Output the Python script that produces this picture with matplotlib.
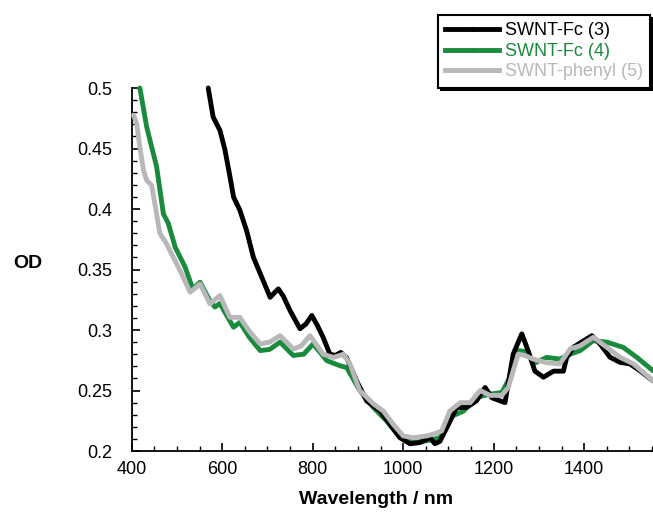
import matplotlib
matplotlib.use("Agg")
import matplotlib.pyplot as plt
from matplotlib.lines import Line2D
from matplotlib.ticker import MultipleLocator, FormatStrFormatter

plt.rcParams['font.family'] = ['Liberation Sans', 'DejaVu Sans']

# SWNT-Fc (3)
wl_3 = [569, 580, 595, 606, 617, 625, 639, 654, 669, 687, 706, 716, 724, 735, 750, 772,
        785, 798, 810, 823, 838, 850, 862, 875, 897, 919, 949, 971, 993, 1015, 1037,
        1059, 1070, 1081, 1100, 1118, 1140, 1162, 1181, 1196, 1214, 1225, 1243, 1262,
        1276, 1291, 1310, 1332, 1354, 1361, 1376, 1398, 1417, 1435, 1457, 1479, 1501,
        1523, 1552]
od_3 = [0.500, 0.476, 0.465, 0.449, 0.427, 0.410, 0.399, 0.382, 0.360, 0.344, 0.327,
        0.331, 0.334, 0.328, 0.316, 0.301, 0.305, 0.312, 0.304, 0.294, 0.280, 0.279,
        0.2815, 0.277, 0.258, 0.2415, 0.233, 0.222, 0.211, 0.206, 0.207, 0.211, 0.206,
        0.208, 0.222, 0.236, 0.236, 0.2415, 0.2525, 0.244, 0.2415, 0.240, 0.280, 0.2968,
        0.283, 0.266, 0.261, 0.266, 0.266, 0.277, 0.2857, 0.291, 0.2953, 0.2885, 0.2775,
        0.2733, 0.272, 0.2664, 0.258]

# SWNT-Fc (4)
wl_4 = [418, 433, 444, 455, 470, 481, 496, 518, 535, 551, 573, 584, 595, 610, 625, 639,
        660, 684, 705, 728, 757, 780, 801, 831, 860, 875, 904, 934, 963, 993, 1022, 1052,
        1081, 1103, 1133, 1162, 1192, 1218, 1236, 1254, 1274, 1287, 1317, 1346, 1369,
        1391, 1420, 1450, 1486, 1516, 1552]
od_4 = [0.500, 0.468, 0.4514, 0.435, 0.396, 0.388, 0.3685, 0.352, 0.334, 0.3395, 0.324,
        0.319, 0.322, 0.312, 0.3023, 0.3064, 0.294, 0.283, 0.284, 0.290, 0.279, 0.280,
        0.2885, 0.2747, 0.2705, 0.269, 0.250, 0.236, 0.225, 0.211, 0.207, 0.2085, 0.211,
        0.228, 0.233, 0.2443, 0.247, 0.2484, 0.261, 0.283, 0.282, 0.272, 0.2774, 0.276,
        0.280, 0.283, 0.2912, 0.290, 0.2857, 0.2775, 0.2664]

# SWNT-phenyl (5)
wl_5 = [404, 411, 418, 426, 433, 444, 455, 462, 477, 492, 507, 529, 551, 573, 595, 617,
        639, 660, 684, 705, 728, 757, 775, 794, 823, 846, 868, 882, 904, 934, 956, 978,
        1000, 1022, 1052, 1067, 1085, 1103, 1126, 1148, 1170, 1192, 1218, 1232, 1254,
        1269, 1287, 1317, 1346, 1369, 1391, 1420, 1450, 1479, 1509, 1552]
od_5 = [0.4776, 0.4707, 0.451, 0.432, 0.4238, 0.4196, 0.396, 0.380, 0.3713, 0.360,
        0.349, 0.3313, 0.338, 0.3216, 0.3285, 0.3105, 0.3105, 0.299, 0.2885, 0.290,
        0.2954, 0.2843, 0.287, 0.2954, 0.280, 0.2774, 0.280, 0.272, 0.250, 0.239, 0.233,
        0.222, 0.2125, 0.211, 0.2125, 0.214, 0.2166, 0.233, 0.240, 0.240, 0.250, 0.246,
        0.246, 0.2525, 0.280, 0.279, 0.276, 0.273, 0.272, 0.2844, 0.287, 0.294, 0.2857,
        0.2775, 0.272, 0.258]

labels = ["SWNT-Fc (3)", "SWNT-Fc (4)", "SWNT-phenyl (5)"]
colors = ["#000000", "#1a8a3c", "#b8b8b8"]

fig = plt.figure(figsize=(6.53, 5.12), dpi=100)
ax = fig.add_axes([0.2017, 0.1191, 0.7983, 0.709])

ax.plot(wl_3, od_3, color=colors[0], lw=3.5, solid_joinstyle='round',
        solid_capstyle='round', zorder=3, clip_on=False)
ax.plot(wl_4, od_4, color=colors[1], lw=3.5, solid_joinstyle='round',
        solid_capstyle='round', zorder=2, clip_on=False)
ax.plot(wl_5, od_5, color=colors[2], lw=3.5, solid_joinstyle='round',
        solid_capstyle='round', zorder=4, clip_on=False)

ax.set_xlim(400, 1552)
ax.set_ylim(0.2, 0.5)
ax.spines['top'].set_visible(False)
ax.spines['right'].set_visible(False)
ax.spines['left'].set_linewidth(1.3)
ax.spines['bottom'].set_linewidth(1.3)

ax.xaxis.set_major_locator(MultipleLocator(200))
ax.xaxis.set_minor_locator(MultipleLocator(50))
ax.yaxis.set_major_locator(MultipleLocator(0.05))
ax.yaxis.set_minor_locator(MultipleLocator(0.01))
ax.yaxis.set_major_formatter(FormatStrFormatter('%g'))
ax.tick_params(which='major', direction='in', length=6, width=1.2, labelsize=13)
ax.tick_params(which='minor', direction='in', length=3.5, width=1.0)
ax.tick_params(axis='y', which='major', pad=14)
ax.tick_params(axis='x', which='major', pad=7)

fig.text(376 / 653, 12 / 512, "Wavelength / nm", fontsize=14, fontweight='bold',
         ha='center', va='center')
fig.text(28 / 653, 249 / 512, "OD", fontsize=14, fontweight='bold',
         ha='center', va='center')

handles = [Line2D([0], [0], color=c, lw=3.5, marker='o', markersize=2.5) for c in colors]
leg = fig.legend(handles, labels, loc='upper right', bbox_to_anchor=(650 / 653, 497 / 512),
                 bbox_transform=fig.transFigure, borderaxespad=0, fontsize=13,
                 handlelength=3.0, handletextpad=0.3, labelspacing=0.2, borderpad=0.4,
                 fancybox=False, edgecolor='black', framealpha=1,
                 shadow={'color': 'black', 'alpha': 1})
leg.get_frame().set_linewidth(1.5)
for txt, c in zip(leg.get_texts(), colors):
    txt.set_color(c)

fig.savefig("out.png", dpi=100)
